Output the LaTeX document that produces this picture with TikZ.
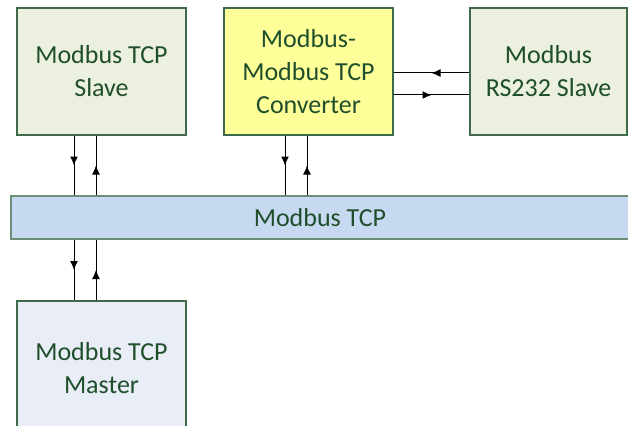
\documentclass[tikz,border=0pt]{standalone}
\usepackage{fontspec}
\setmainfont{Carlito}
\usetikzlibrary{arrows.meta, positioning, calc, decorations.markings}
\definecolor{slavefill}{HTML}{EBF1DE}
\definecolor{convfill}{HTML}{FFFF99}
\definecolor{busfill}{HTML}{C6D9F0}
\definecolor{masterfill}{HTML}{E9EEF6}
\definecolor{edgegreen}{HTML}{3D6B4A}
\definecolor{busedge}{HTML}{6E8F77}
\definecolor{txtgreen}{HTML}{1F4E2C}
\tikzset{
  unit/.style={draw=edgegreen, line width=1.3pt, text=txtgreen, align=center,
    font=\fontsize{26}{33}\selectfont, inner sep=0pt},
  link/.style={line width=1pt, postaction={decorate},
    decoration={markings, mark=at position 0.5 with {\arrow{Latex[length=9pt,width=8pt]}}}}
}

\begin{document}
\begin{tikzpicture}[x=1pt, y=-1pt]
\useasboundingbox (0,0) rectangle (628,425);

\node[unit, fill=slavefill, minimum width=169pt, minimum height=127pt] (slave) at (101.5,71.5) {Modbus TCP\\Slave};
\node[unit, fill=convfill, minimum width=169pt, minimum height=127pt] (conv) at (308.5,71.5) {Modbus-\\Modbus TCP\\Converter};
\node[unit, fill=slavefill, minimum width=157pt, minimum height=127pt] (rs) at (548.5,71.5) {Modbus\\RS232 Slave};
\node[unit, draw=busedge, fill=busfill, minimum width=618pt, minimum height=43pt] (bus) at (320,217.5) {Modbus TCP};
\node[unit, fill=masterfill, minimum width=169pt, minimum height=134pt] (master) at (101.5,368) {Modbus TCP\\Master};

% taps onto the bus
\coordinate (s1) at ([xshift=-27.5]slave.south);
\coordinate (s2) at ([xshift=-5.5]slave.south);
\coordinate (c1) at ([xshift=-23.5]conv.south);
\coordinate (c2) at ([xshift=-1.5]conv.south);
\coordinate (m1) at ([xshift=-27.5]master.north);
\coordinate (m2) at ([xshift=-5.5]master.north);

\draw[link] (s1) -- (s1 |- bus.north);
\draw[link] (s2 |- bus.north) -- (s2);
\draw[link] (c1) -- (c1 |- bus.north);
\draw[link] (c2 |- bus.north) -- (c2);
\draw[link] (m1 |- bus.south) -- (m1);
\draw[link] (m2) -- (m2 |- bus.south);

% serial side
\draw[link] ([yshift=-1.5]rs.west) -- ([yshift=-1.5]rs.west -| conv.east);
\draw[link] ([yshift=-23.5]conv.east) -- ([yshift=-23.5]conv.east -| rs.west);
\end{tikzpicture}
\end{document}
